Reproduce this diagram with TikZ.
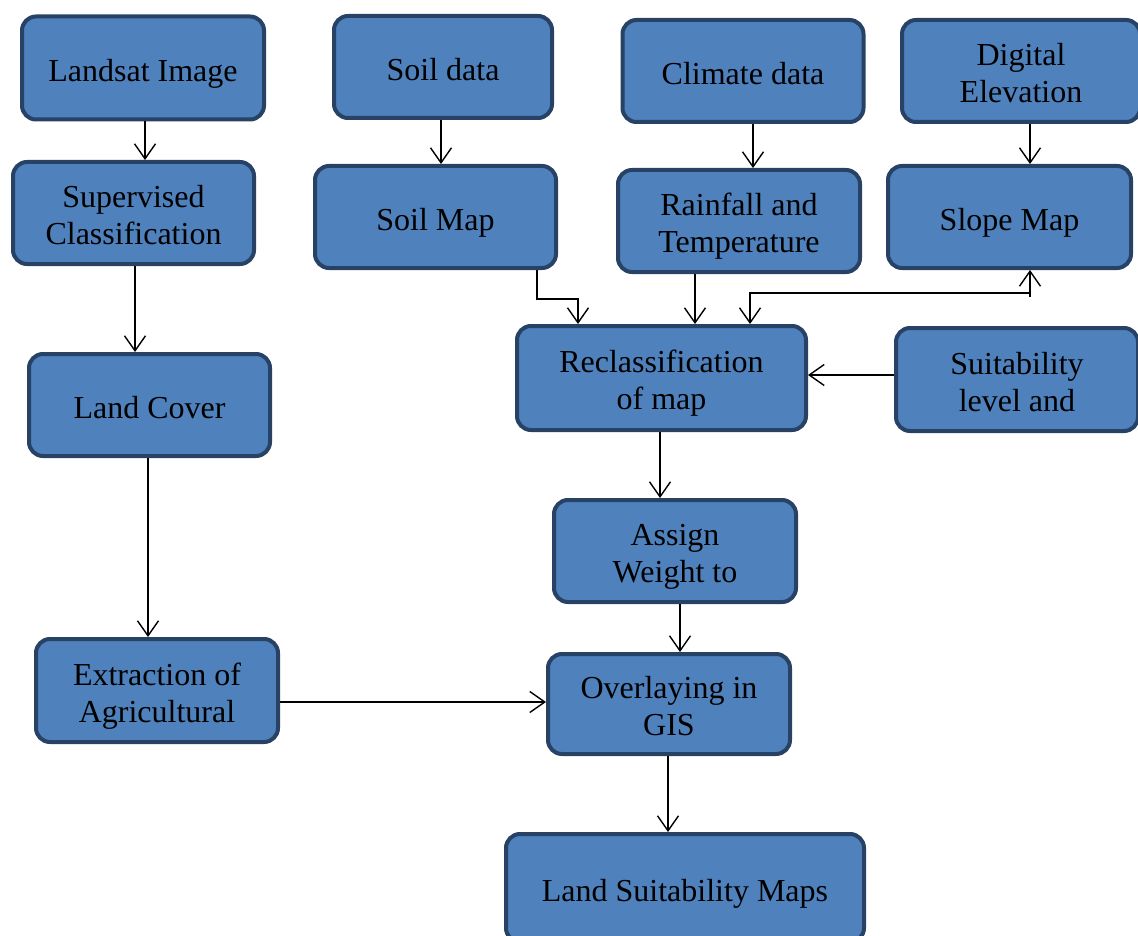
\documentclass[tikz,border=0pt]{standalone}
\usepackage{fontspec}
\setmainfont{Liberation Serif}
\usetikzlibrary{arrows.meta}
\definecolor{boxfill}{HTML}{4F81BD}
\definecolor{boxline}{RGB}{40,66,102}
\newcommand\tx[1]{\raisebox{-6pt}[\height][\depth]{\begin{tabular}{@{}c@{}}#1\end{tabular}}}
\tikzset{
  box/.style={draw=boxline, fill=boxfill, line width=4pt, rounded corners=14pt,
    inner sep=0pt, font=\fontsize{32}{37}\selectfont, text=black},
  arr/.style={line width=1.4pt, -{Straight Barb[length=15pt,width=21pt,line width=1.4pt]}},
  arrtwo/.style={line width=1.4pt, {Straight Barb[length=15pt,width=21pt,line width=1.4pt]}-{Straight Barb[length=15pt,width=21pt,line width=1.4pt]}}
}
\begin{document}
\begin{tikzpicture}[x=1pt,y=-1pt]
\useasboundingbox (0,0) rectangle (1138,936);
\clip (0,0) rectangle (1138,936);
\fill[white] (0,0) rectangle (1138,936);
\node[box, minimum width=242pt, minimum height=103pt] (landsat) at (143,68) {\tx{Landsat Image}};
\node[box, minimum width=218pt, minimum height=102pt] (soildata) at (443,67) {\tx{Soil data}};
\node[box, minimum width=241pt, minimum height=102pt] (climate) at (743,71) {\tx{Climate data}};
\node[box, minimum width=238pt, minimum height=102pt] (dem) at (1021,71) {\tx{Digital\\Elevation}};
\node[box, minimum width=241pt, minimum height=102pt] (superv) at (133.5,213) {\tx{Supervised\\Classification}};
\node[box, minimum width=241pt, minimum height=102pt] (soilmap) at (435.5,217) {\tx{Soil Map}};
\node[box, minimum width=242pt, minimum height=102pt] (rain) at (739,221) {\tx{Rainfall and\\Temperature}};
\node[box, minimum width=243pt, minimum height=102pt] (slope) at (1009.5,217) {\tx{Slope Map}};
\node[box, minimum width=289pt, minimum height=104pt] (reclass) at (661.5,378) {\tx{Reclassification\\of map}};
\node[box, minimum width=242pt, minimum height=103pt] (suit) at (1017,379.5) {\tx{Suitability\\level and}};
\node[box, minimum width=241pt, minimum height=102pt] (landcover) at (149.5,405) {\tx{Land Cover}};
\node[box, minimum width=242pt, minimum height=102pt] (assign) at (675,551) {\tx{Assign\\Weight to}};
\node[box, minimum width=242pt, minimum height=103pt] (extract) at (157,690.5) {\tx{Extraction of\\Agricultural}};
\node[box, minimum width=242pt, minimum height=100pt] (overlay) at (669,704) {\tx{Overlaying in\\GIS}};
\node[box, minimum width=358pt, minimum height=108pt] (lsm) at (685,888) {\tx{Land Suitability Maps}};

\draw[arr] ([xshift=2pt]landsat.south) -- ([xshift=2pt]landsat.south |- superv.north);
\draw[arr] ([xshift=1.5pt]superv.south) -- ([xshift=1.5pt]superv.south |- landcover.north);
\draw[arr] ([xshift=-1.5pt]landcover.south) -- ([xshift=-1.5pt]landcover.south |- extract.north);
\draw[arr] ([yshift=-11.5pt]extract.east) -- ([yshift=-11.5pt]extract.east -| overlay.west);
\draw[arr] ([xshift=-2pt]soildata.south) -- ([xshift=-2pt]soildata.south |- soilmap.north);
\draw[arr] ([xshift=10pt]climate.south) -- ([xshift=10pt]climate.south |- rain.north);
\draw[arr] ([xshift=9pt]dem.south) -- ([xshift=9pt]dem.south |- slope.north);
\draw[arr] ([xshift=101.5pt]soilmap.south) -- ++(0,29) -| ([xshift=-83.5pt]reclass.north);
\draw[arr] ([xshift=-44pt]rain.south) -- ([xshift=-44pt]rain.south |- reclass.north);
\draw[arrtwo] ([xshift=20.5pt]slope.south) -- ++(0,23) -| ([xshift=88.5pt]reclass.north);
\draw[line width=1.4pt] ([xshift=20.5pt]slope.south) ++(0,22) -- ++(0,5);
\draw[arr] ([yshift=4.5pt]suit.west) -- ([yshift=4.5pt]suit.west -| reclass.east);
\draw[arr] ([xshift=-1.5pt]reclass.south) -- ([xshift=-1.5pt]reclass.south |- assign.north);
\draw[arr] ([xshift=5pt]assign.south) -- ([xshift=5pt]assign.south |- overlay.north);
\draw[arr] ([xshift=-1pt]overlay.south) -- ([xshift=-1pt]overlay.south |- lsm.north);
\end{tikzpicture}
\end{document}
